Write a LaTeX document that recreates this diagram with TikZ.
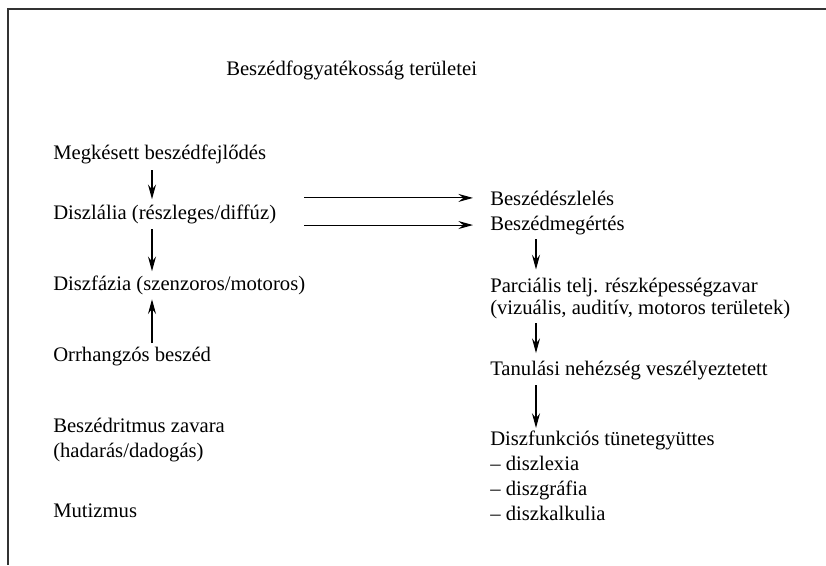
\documentclass[tikz,border=0pt]{standalone}
\usepackage{fontspec}
\setmainfont{Liberation Serif}
\usetikzlibrary{arrows.meta}
\tikzstyle{item} = [anchor=base west, inner sep=0pt, align=left,
    font=\fontsize{15.5}{18.75}\selectfont]
\tikzstyle{line} = [draw, line width=0.8pt, -{Stealth[length=11pt, width=6pt, inset=3.8pt]}]

\begin{document}
\begin{tikzpicture}[x=0.75pt, y=-0.75pt]
    \useasboundingbox (0,0) rectangle (826,565);
    % frame
    \draw [line width=1.3pt, black!80] (826,9) -- (8,9) -- (8,565);

    % Place nodes (multi-line nodes sit on the baseline of their last line)
    \node [item] (title) at (226,75) {Beszédfogyatékosság területei};

    \node [item] (megk) at (53,159) {Megkésett beszédfejlődés};
    \node [item] (diszl) at (53,219) {Diszlália (részleges/diffúz)};
    \node [item] (diszf) at (53,290) {Diszfázia (szenzoros/motoros)};
    \node [item] (orr) at (53,361) {Orrhangzós beszéd};
    \node [item] (ritmus) at (53,457) {Beszédritmus zavara\\(hadarás/dadogás)};
    \node [item] (mutiz) at (53,517) {Mutizmus};

    \node [item] (eszl) at (490,205) {Beszédészlelés};
    \node [item] (megert) at (490,230) {Beszédmegértés};
    \node [item] (parc) at (490,314) {Parciális telj. részképességzavar\\[-2.5pt](vizuális, auditív, motoros területek)};
    \node [item] (tanul) at (490,375) {Tanulási nehézség veszélyeztetett};
    \node [item] (diszfunk) at (490,520) {Diszfunkciós tünetegyüttes\\-- diszlexia\\-- diszgráfia\\-- diszkalkulia};

    \coordinate (lx) at (152,0);
    \coordinate (rx) at (536,0);

    % Draw edges
    \path [line, shorten <=5pt, shorten >=3.75pt] (megk.south -| lx) -- (diszl.north -| lx);
    \path [line, shorten <=4.2pt, shorten >=3pt] (diszl.south -| lx) -- (diszf.north -| lx);
    \path [line, shorten <=2.5pt, shorten >=3.5pt] (orr.north -| lx) -- (diszf.south -| lx);

    \path [line, shorten <=21pt, shorten >=12.75pt] (diszl.east |- eszl.west) -- (eszl.west);
    \path [line, shorten <=21pt, shorten >=12.75pt] (diszl.east |- megert.west) -- (megert.west);

    \path [line, shorten <=3.5pt, shorten >=6.2pt] (megert.south -| rx) -- (parc.north -| rx);
    \path [line, shorten <=3.4pt, shorten >=5.5pt] (parc.south -| rx) -- (tanul.north -| rx);
    \path [line, shorten <=4.2pt, shorten >=1.7pt] (tanul.south -| rx) -- (diszfunk.north -| rx);

\end{tikzpicture}
\end{document}
